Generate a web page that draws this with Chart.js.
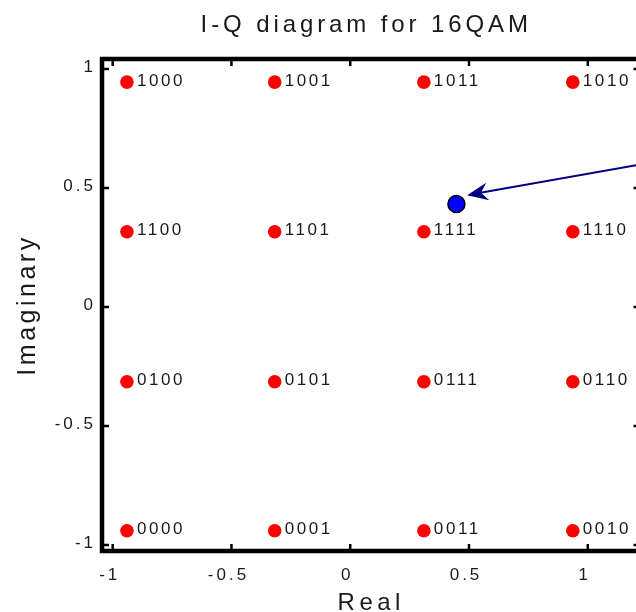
<!DOCTYPE html>
<html lang="en">
<head>
  <meta charset="UTF-8">
  <title>I-Q diagram for 16QAM</title>
  <script src="https://cdn.jsdelivr.net/npm/chart.js"></script>
  <style>
    body {
      margin: 0;
      overflow: hidden;
      background: #fff;
    }
    .chart-container {
      width: 636px;
      height: 612px;
    }
  </style>
</head>
<body>
  <div class="chart-container"><canvas id="iq" width="636" height="612"></canvas></div>

  <script>
    // constellation
    const iValues = [-0.94, -0.318, 0.31, 0.937];
    const qValues = [0.945, 0.316, -0.314, -0.94];
    const symbolLabels = [
      ['1000', '1001', '1011', '1010'],
      ['1100', '1101', '1111', '1110'],
      ['0100', '0101', '0111', '0110'],
      ['0000', '0001', '0011', '0010']
    ];
    const receivedPoint = [0.447, 0.433];
    const arrowFrom = [1.4, 0.63];
    const arrowTo = [0.492, 0.47];
    const xTicks = [-1, -0.5, 0, 0.5, 1];
    const yTicks = [-1, -0.5, 0, 0.5, 1];
    // visible part of the axes; the real right edge of the box is just past the crop
    const xRange = [-1.045, 1.203];
    const xBoxRight = 1.222;
    const yRange = [-1.025, 1.042];

    const FONT = '"Liberation Sans", Arial, sans-serif';
    const TEXT = '#1a1a1a';

    const constellation = [];
    qValues.forEach((q, r) => {
      iValues.forEach((i, c) => {
        constellation.push({ x: i, y: q, label: symbolLabels[r][c] });
      });
    });

    function text(ctx, str, x, y, size, spacing, align, baseline) {
      ctx.font = size + 'px ' + FONT;
      ctx.letterSpacing = spacing + 'px';
      ctx.textAlign = align;
      ctx.textBaseline = baseline;
      ctx.fillStyle = TEXT;
      ctx.fillText(str, x, y);
    }

    const decorations = {
      id: 'decorations',
      afterDatasetsDraw(chart) {
        const ctx = chart.ctx;
        const xs = chart.scales.x, ys = chart.scales.y;
        const area = chart.chartArea;
        const boxRight = xs.getPixelForValue(xBoxRight);

        // symbol labels
        ctx.save();
        chart.data.datasets[0].data.forEach(p => {
          text(ctx, p.label, xs.getPixelForValue(p.x) + 10, ys.getPixelForValue(p.y) - 1, 17, 2.6, 'left', 'middle');
        });
        ctx.restore();

        // arrow to received point
        ctx.save();
        const x0 = xs.getPixelForValue(arrowFrom[0]), y0 = ys.getPixelForValue(arrowFrom[1]);
        const x1 = xs.getPixelForValue(arrowTo[0]), y1 = ys.getPixelForValue(arrowTo[1]);
        const ang = Math.atan2(y1 - y0, x1 - x0);
        ctx.strokeStyle = '#000080';
        ctx.fillStyle = '#000080';
        ctx.lineWidth = 2;
        ctx.beginPath();
        ctx.moveTo(x0, y0);
        ctx.lineTo(x1 - 12 * Math.cos(ang), y1 - 12 * Math.sin(ang));
        ctx.stroke();
        ctx.translate(x1, y1);
        ctx.rotate(ang);
        ctx.beginPath();
        ctx.moveTo(0, 0);
        ctx.lineTo(-21, -9);
        ctx.lineTo(-14, 0);
        ctx.lineTo(-21, 9);
        ctx.closePath();
        ctx.fill();
        ctx.restore();

        // axes box with inward ticks
        ctx.save();
        ctx.strokeStyle = '#000';
        ctx.lineWidth = 4.5;
        ctx.strokeRect(area.left, area.top, boxRight - area.left, area.bottom - area.top);
        ctx.lineWidth = 2.5;
        ctx.beginPath();
        xTicks.forEach(v => {
          const px = xs.getPixelForValue(v);
          ctx.moveTo(px, area.bottom); ctx.lineTo(px, area.bottom - 7);
          ctx.moveTo(px, area.top); ctx.lineTo(px, area.top + 7);
        });
        yTicks.forEach(v => {
          const py = ys.getPixelForValue(v);
          ctx.moveTo(area.left, py); ctx.lineTo(area.left + 7, py);
          ctx.moveTo(boxRight, py); ctx.lineTo(boxRight - 7, py);
        });
        ctx.stroke();
        ctx.restore();

        // tick labels
        ctx.save();
        xTicks.forEach(v => {
          text(ctx, String(v), xs.getPixelForValue(v) - 3, area.bottom + 24, 17, 3, 'center', 'middle');
        });
        yTicks.forEach(v => {
          text(ctx, String(v), area.left - 6, ys.getPixelForValue(v) - 2, 17, 3, 'right', 'middle');
        });
        ctx.restore();

        // titles
        ctx.save();
        const cx = (area.left + boxRight) / 2;
        text(ctx, 'I-Q diagram for 16QAM', cx - 5, 32, 24, 3.9, 'center', 'alphabetic');
        text(ctx, 'Real', cx, 610, 24, 4.5, 'center', 'alphabetic');
        ctx.translate(35, (area.top + area.bottom) / 2);
        ctx.rotate(-Math.PI / 2);
        text(ctx, 'Imaginary', 0, 0, 25, 3.5, 'center', 'alphabetic');
        ctx.restore();
      }
    };

    new Chart(document.getElementById('iq').getContext('2d'), {
      type: 'scatter',
      data: {
        datasets: [
          {
            label: '16QAM',
            data: constellation,
            backgroundColor: '#ff0000',
            borderWidth: 0,
            pointRadius: 6.8
          },
          {
            label: 'received',
            data: [{ x: receivedPoint[0], y: receivedPoint[1] }],
            backgroundColor: '#0000ff',
            borderColor: '#000000',
            borderWidth: 1.5,
            pointRadius: 8.5
          }
        ]
      },
      options: {
        responsive: false,
        animation: false,
        devicePixelRatio: 1,
        layout: { autoPadding: false, padding: { left: 102, right: 0, top: 59, bottom: 61 } },
        plugins: {
          legend: { display: false },
          tooltip: { enabled: false }
        },
        scales: {
          x: { type: 'linear', display: false, min: xRange[0], max: xRange[1] },
          y: { type: 'linear', display: false, min: yRange[0], max: yRange[1] }
        }
      },
      plugins: [decorations]
    });
  </script>
</body>
</html>
